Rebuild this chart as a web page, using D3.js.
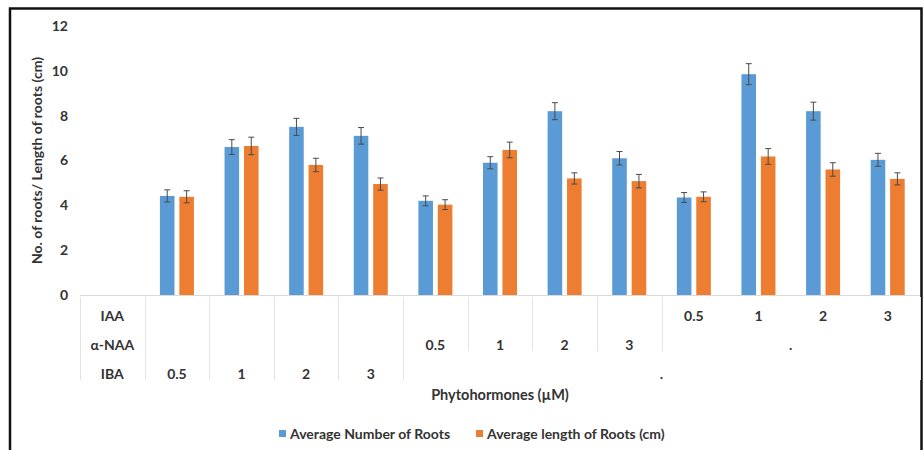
<!DOCTYPE html>
<html>
<head>
<meta charset="utf-8">
<script src="https://cdn.jsdelivr.net/npm/d3@7"></script>
<style>
  body { margin: 0; background: #fff; }
  text { font-family: Lato, 'Open Sans', sans-serif; font-weight: bold; fill: #333; }
</style>
</head>
<body>
<div id="chart"></div>
<script>
'use strict';
// Chart data
const categories = ['IBA 0.5', 'IBA 1', 'IBA 2', 'IBA 3', 'NAA 0.5', 'NAA 1', 'NAA 2', 'NAA 3', 'IAA 0.5', 'IAA 1', 'IAA 2', 'IAA 3']
const seriesNames = ['Average Number of Roots', 'Average length of Roots (cm)']
const avgNumber = [4.42, 6.6, 7.5, 7.1, 4.2, 5.9, 8.2, 6.1, 4.35, 9.85, 8.2, 6.03]
const avgLength = [4.38, 6.65, 5.8, 4.95, 4.03, 6.47, 5.2, 5.08, 4.38, 6.18, 5.6, 5.18]
const errNumber = [0.27, 0.33, 0.38, 0.37, 0.22, 0.27, 0.38, 0.3, 0.22, 0.47, 0.4, 0.29]
const errLength = [0.27, 0.39, 0.3, 0.27, 0.22, 0.35, 0.25, 0.3, 0.22, 0.35, 0.3, 0.27]
const yTicks = [0, 2, 4, 6, 8, 10, 12]
// Multi level category table: [label, number of categories spanned]
const rowNames = ['IAA', 'α-NAA', 'IBA']
const iaaCells = [['', 1], ['', 1], ['', 1], ['', 1], ['', 1], ['', 1], ['', 1], ['', 1], ['0.5', 1], ['1', 1], ['2', 1], ['3', 1]]
const naaCells = [['', 1], ['', 1], ['', 1], ['', 1], ['0.5', 1], ['1', 1], ['2', 1], ['3', 1], ['.', 4]]
const ibaCells = [['0.5', 1], ['1', 1], ['2', 1], ['3', 1], ['.', 8]]

const colors = ['#5b9bd5', '#ed7d31']
const width = 924
const height = 450
const margin = { top: 26, left: 80, right: 4, bottom: 155 }
const rowH = 29
const fontSize = 14

const svg = d3.select('#chart')
  .append('svg')
  .attr('width', width)
  .attr('height', height)

// Outer frame
svg.append('rect')
  .attr('x', 10)
  .attr('y', 8.5)
  .attr('width', 911.5)
  .attr('height', 460)
  .attr('fill', 'none')
  .attr('stroke', '#111')
  .attr('stroke-width', 2.5)

// First slot of the band scale holds the row names of the table
const x = d3.scaleBand()
  .domain(['labels'].concat(categories))
  .range([margin.left, width - margin.right])
const y = d3.scaleLinear()
  .domain([0, 12])
  .range([295, margin.top])
const bw = x.bandwidth()
const sub = d3.scaleBand()
  .domain(seriesNames)
  .range([(bw - 34) / 2, (bw + 34) / 2])
  .paddingInner(0.25)

// Y axis labels
svg.append('g')
  .attr('transform', `translate(${margin.left - 12}, 0)`)
  .call(d3.axisLeft(y).tickValues(yTicks).tickSize(0).tickPadding(0))
  .call(g => g.select('.domain').remove())
  .call(g => g.selectAll('text').attr('font-size', fontSize).attr('font-family', null).attr('fill', null))

// Y axis title
svg.append('text')
  .attr('transform', `translate(42, ${y(6)}) rotate(-90)`)
  .attr('text-anchor', 'middle')
  .attr('font-size', fontSize)
  .text('No. of roots/  Length of roots (cm)')

// Bars
const seriesData = [
  { name: seriesNames[0], values: avgNumber, errs: errNumber, color: colors[0] },
  { name: seriesNames[1], values: avgLength, errs: errLength, color: colors[1] }
]
seriesData.forEach(s => {
  const rows = categories.map((c, i) => ({ c, v: s.values[i], e: s.errs[i] }))
  const g = svg.append('g')
  g.selectAll('rect')
    .data(rows)
    .join('rect')
    .attr('x', d => x(d.c) + sub(s.name))
    .attr('y', d => y(d.v))
    .attr('width', sub.bandwidth())
    .attr('height', d => y(0) - y(d.v))
    .attr('fill', s.color)

  // Error bars
  const eb = g.selectAll('g.err')
    .data(rows)
    .join('g')
    .attr('class', 'err')
    .attr('stroke', '#4a4a4a')
    .attr('stroke-width', 1)
  const cx = d => x(d.c) + sub(s.name) + sub.bandwidth() / 2
  eb.append('line')
    .attr('x1', cx).attr('x2', cx)
    .attr('y1', d => y(d.v + d.e)).attr('y2', d => y(d.v - d.e))
  eb.append('line')
    .attr('x1', d => cx(d) - 3).attr('x2', d => cx(d) + 3)
    .attr('y1', d => y(d.v + d.e)).attr('y2', d => y(d.v + d.e))
  eb.append('line')
    .attr('x1', d => cx(d) - 3).attr('x2', d => cx(d) + 3)
    .attr('y1', d => y(d.v - d.e)).attr('y2', d => y(d.v - d.e))
})

// Category axis line
svg.append('line')
  .attr('x1', margin.left).attr('x2', width - margin.right)
  .attr('y1', y(0) + 0.5).attr('y2', y(0) + 0.5)
  .attr('stroke', '#d9d9d9')

// Category table
const tableTop = y(0) + 2
const step = x.step()
const firstCat = x(categories[0])
const rowSets = [iaaCells, naaCells, ibaCells]
const table = svg.append('g')
const rowBase = i => tableTop + rowH * i + 24

// Separator depth: a boundary runs down to the lowest row where a cell starts there
const depth = new Array(categories.length + 1).fill(0)
depth[0] = 3
depth[categories.length] = 3
rowSets.slice(1).forEach((cells, r) => {
  let k = 0
  cells.forEach(([, span]) => {
    depth[k] = Math.max(depth[k], r + 2)
    k += span
  })
})
table.append('line')
  .attr('x1', margin.left + 0.5).attr('x2', margin.left + 0.5)
  .attr('y1', tableTop).attr('y2', tableTop + rowH * 3 - 4)
  .attr('stroke', '#e3e3e3')
table.selectAll('line.sep')
  .data(depth)
  .join('line')
  .attr('class', 'sep')
  .attr('x1', (d, i) => Math.round(firstCat + i * step) + 0.5)
  .attr('x2', (d, i) => Math.round(firstCat + i * step) + 0.5)
  .attr('y1', tableTop)
  .attr('y2', d => tableTop + (d === 2 ? rowH * 2 : rowH * 3) - 4)
  .attr('stroke', d => d ? '#e3e3e3' : 'none')

// Row names
table.selectAll('text.rowname')
  .data(rowNames)
  .join('text')
  .attr('class', 'rowname')
  .attr('x', x('labels') + bw / 2)
  .attr('y', (d, i) => rowBase(i))
  .attr('text-anchor', 'middle')
  .attr('font-size', fontSize)
  .text(d => d)

// Cell labels
rowSets.forEach((cells, r) => {
  let k = 0
  cells.forEach(([label, span]) => {
    table.append('text')
      .attr('x', firstCat + (k + span / 2) * step)
      .attr('y', rowBase(r))
      .attr('text-anchor', 'middle')
      .attr('font-size', fontSize)
      .text(label)
    k += span
  })
})

// X axis title
svg.append('text')
  .attr('x', 500)
  .attr('y', 400)
  .attr('text-anchor', 'middle')
  .attr('font-size', 14.5)
  .text('Phytohormones (µM)')

// Legend
const legend = svg.append('g').attr('transform', 'translate(279, 439)')
const legendX = [0, 197]
seriesData.forEach((s, i) => {
  legend.append('rect')
    .attr('x', legendX[i])
    .attr('y', -9)
    .attr('width', 7)
    .attr('height', 7)
    .attr('fill', s.color)
  legend.append('text')
    .attr('x', legendX[i] + 11)
    .attr('y', 0)
    .attr('font-size', fontSize)
    .text(s.name)
})
</script>
</body>
</html>
